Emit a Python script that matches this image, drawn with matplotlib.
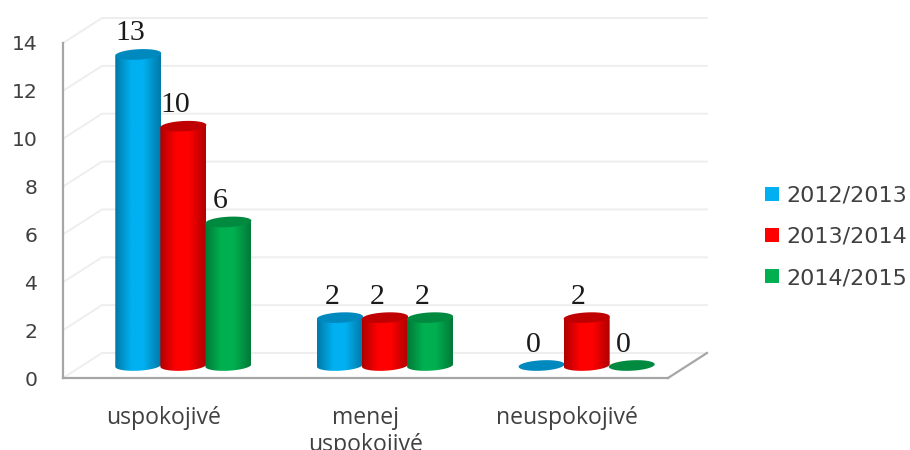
import numpy as np
import matplotlib
matplotlib.use("Agg")
import matplotlib.pyplot as plt
from matplotlib.colors import LinearSegmentedColormap
from matplotlib.patches import Patch, Polygon

categories = ["uspokojivé", "menej\nuspokojivé", "neuspokojivé"]
series_names = ["2012/2013", "2013/2014", "2014/2015"]
values_2012 = [13, 2, 0]
values_2013 = [10, 2, 2]
values_2014 = [6, 2, 0]
y_ticks = [0, 2, 4, 6, 8, 10, 12, 14]

face_colors = ["#00B0F0", "#FF0000", "#00B050"]
dark_colors = ["#0079A8", "#B00000", "#007A38"]
top_colors = ["#0089BE", "#C00000", "#008A40"]

W, H = 910, 450
fig = plt.figure(figsize=(W / 100, H / 100), dpi=100, facecolor="white")
ax = fig.add_axes([63 / W, 1 - 378 / H, 605 / W, 335 / H])
ax.patch.set_alpha(0)
ax.set_xlim(-0.5, 2.5)
ax.set_ylim(0, 14)

DX = 39 / (605 / 3)      # depth of the chart box in category units
DY = 25 / (335 / 14)     # depth of the chart box in value units
BAR_W = 0.114
BAR_STEP = 0.2235
ELL_B = 5.2 / (335 / 14)
ELL_TILT = 1.2 / (335 / 14)
GRID = "#EEEEEE"
AXIS = "#A6A6A6"
TEXT = "#404040"

# walls
for v in y_ticks:
    ax.plot([-0.5, -0.5 + DX, 2.5 + DX], [v, v + DY, v + DY], color=GRID, lw=1.4,
            clip_on=False, zorder=1)
ax.plot([2.5, 2.5 + DX], [0, DY], color=AXIS, lw=1.6, clip_on=False, zorder=2)


def ellipse(cx, cy, t):
    return cx + BAR_W * np.cos(t), cy + ELL_B * np.sin(t) + ELL_TILT * np.cos(t)


all_values = [values_2012, values_2013, values_2014]
z = 3
for i, vals in enumerate(all_values):
    cmap = LinearSegmentedColormap.from_list(
        f"c{i}", [(0, dark_colors[i]), (0.35, face_colors[i]), (0.62, face_colors[i]), (1, dark_colors[i])])
    for j, v in enumerate(vals):
        cx = j + (i - 1) * BAR_STEP + 0.5 * DX
        base = 0.5 * DY
        top = v + 0.5 * DY
        tt = np.linspace(0, 2 * np.pi, 80)
        if v > 0:
            lower = np.linspace(np.pi, 2 * np.pi, 40)
            bx, by = ellipse(cx, base, lower)
            rx, ry = ellipse(cx, top, np.array([0.0]))
            lx, ly = ellipse(cx, top, np.array([np.pi]))
            xs = np.r_[lx, bx, rx]
            ys = np.r_[ly, by, ry]
            clip = Polygon(np.c_[xs, ys], closed=True, transform=ax.transData, fc="none", ec="none")
            ax.add_patch(clip)
            im = ax.imshow(np.linspace(0, 1, 128)[None, :], cmap=cmap, aspect="auto",
                           extent=[cx - BAR_W, cx + BAR_W, base - 2 * ELL_B, top + 2 * ELL_B],
                           zorder=z, interpolation="bilinear")
            im.set_clip_path(clip)
        ex, ey = ellipse(cx, top, tt)
        ax.fill(ex, ey, color=top_colors[i], lw=0, zorder=z + 0.5)
        ax.annotate(str(v), (cx, top), xytext=(-8 * 0.72, 21 * 0.72), textcoords="offset points",
                    ha="center", va="center", family="Liberation Serif", fontsize=21.5,
                    color="#1A1A1A", zorder=20, annotation_clip=False)
        z += 1

ax.set_xlim(-0.5, 2.5)
ax.set_ylim(0, 14)

# axes
for s in ["top", "right"]:
    ax.spines[s].set_visible(False)
for s in ["left", "bottom"]:
    ax.spines[s].set_color(AXIS)
    ax.spines[s].set_linewidth(1.6)
ax.set_yticks(y_ticks)
ax.set_xticks(range(len(categories)))
ax.set_xticklabels(categories, family="Open Sans", fontsize=16.6, color=TEXT, linespacing=1.15)
ax.tick_params(axis="x", length=0, pad=20.5)
ax.tick_params(axis="y", length=0, pad=18.5, labelsize=14.7, labelcolor=TEXT)
for lab in ax.get_yticklabels():
    lab.set_family("DejaVu Sans")

handles = [Patch(facecolor=c, edgecolor="none") for c in face_colors]
leg = fig.legend(handles, series_names, loc="center left", bbox_to_anchor=(765 / W, 1 - 237 / H),
                 frameon=False, handlelength=0.62, handleheight=0.62, handletextpad=0.36,
                 labelspacing=0.95, borderpad=0, borderaxespad=0,
                 prop={"family": "DejaVu Sans", "size": 16.0})
for t in leg.get_texts():
    t.set_color(TEXT)

fig.savefig("out.png", dpi=100, facecolor="white")
